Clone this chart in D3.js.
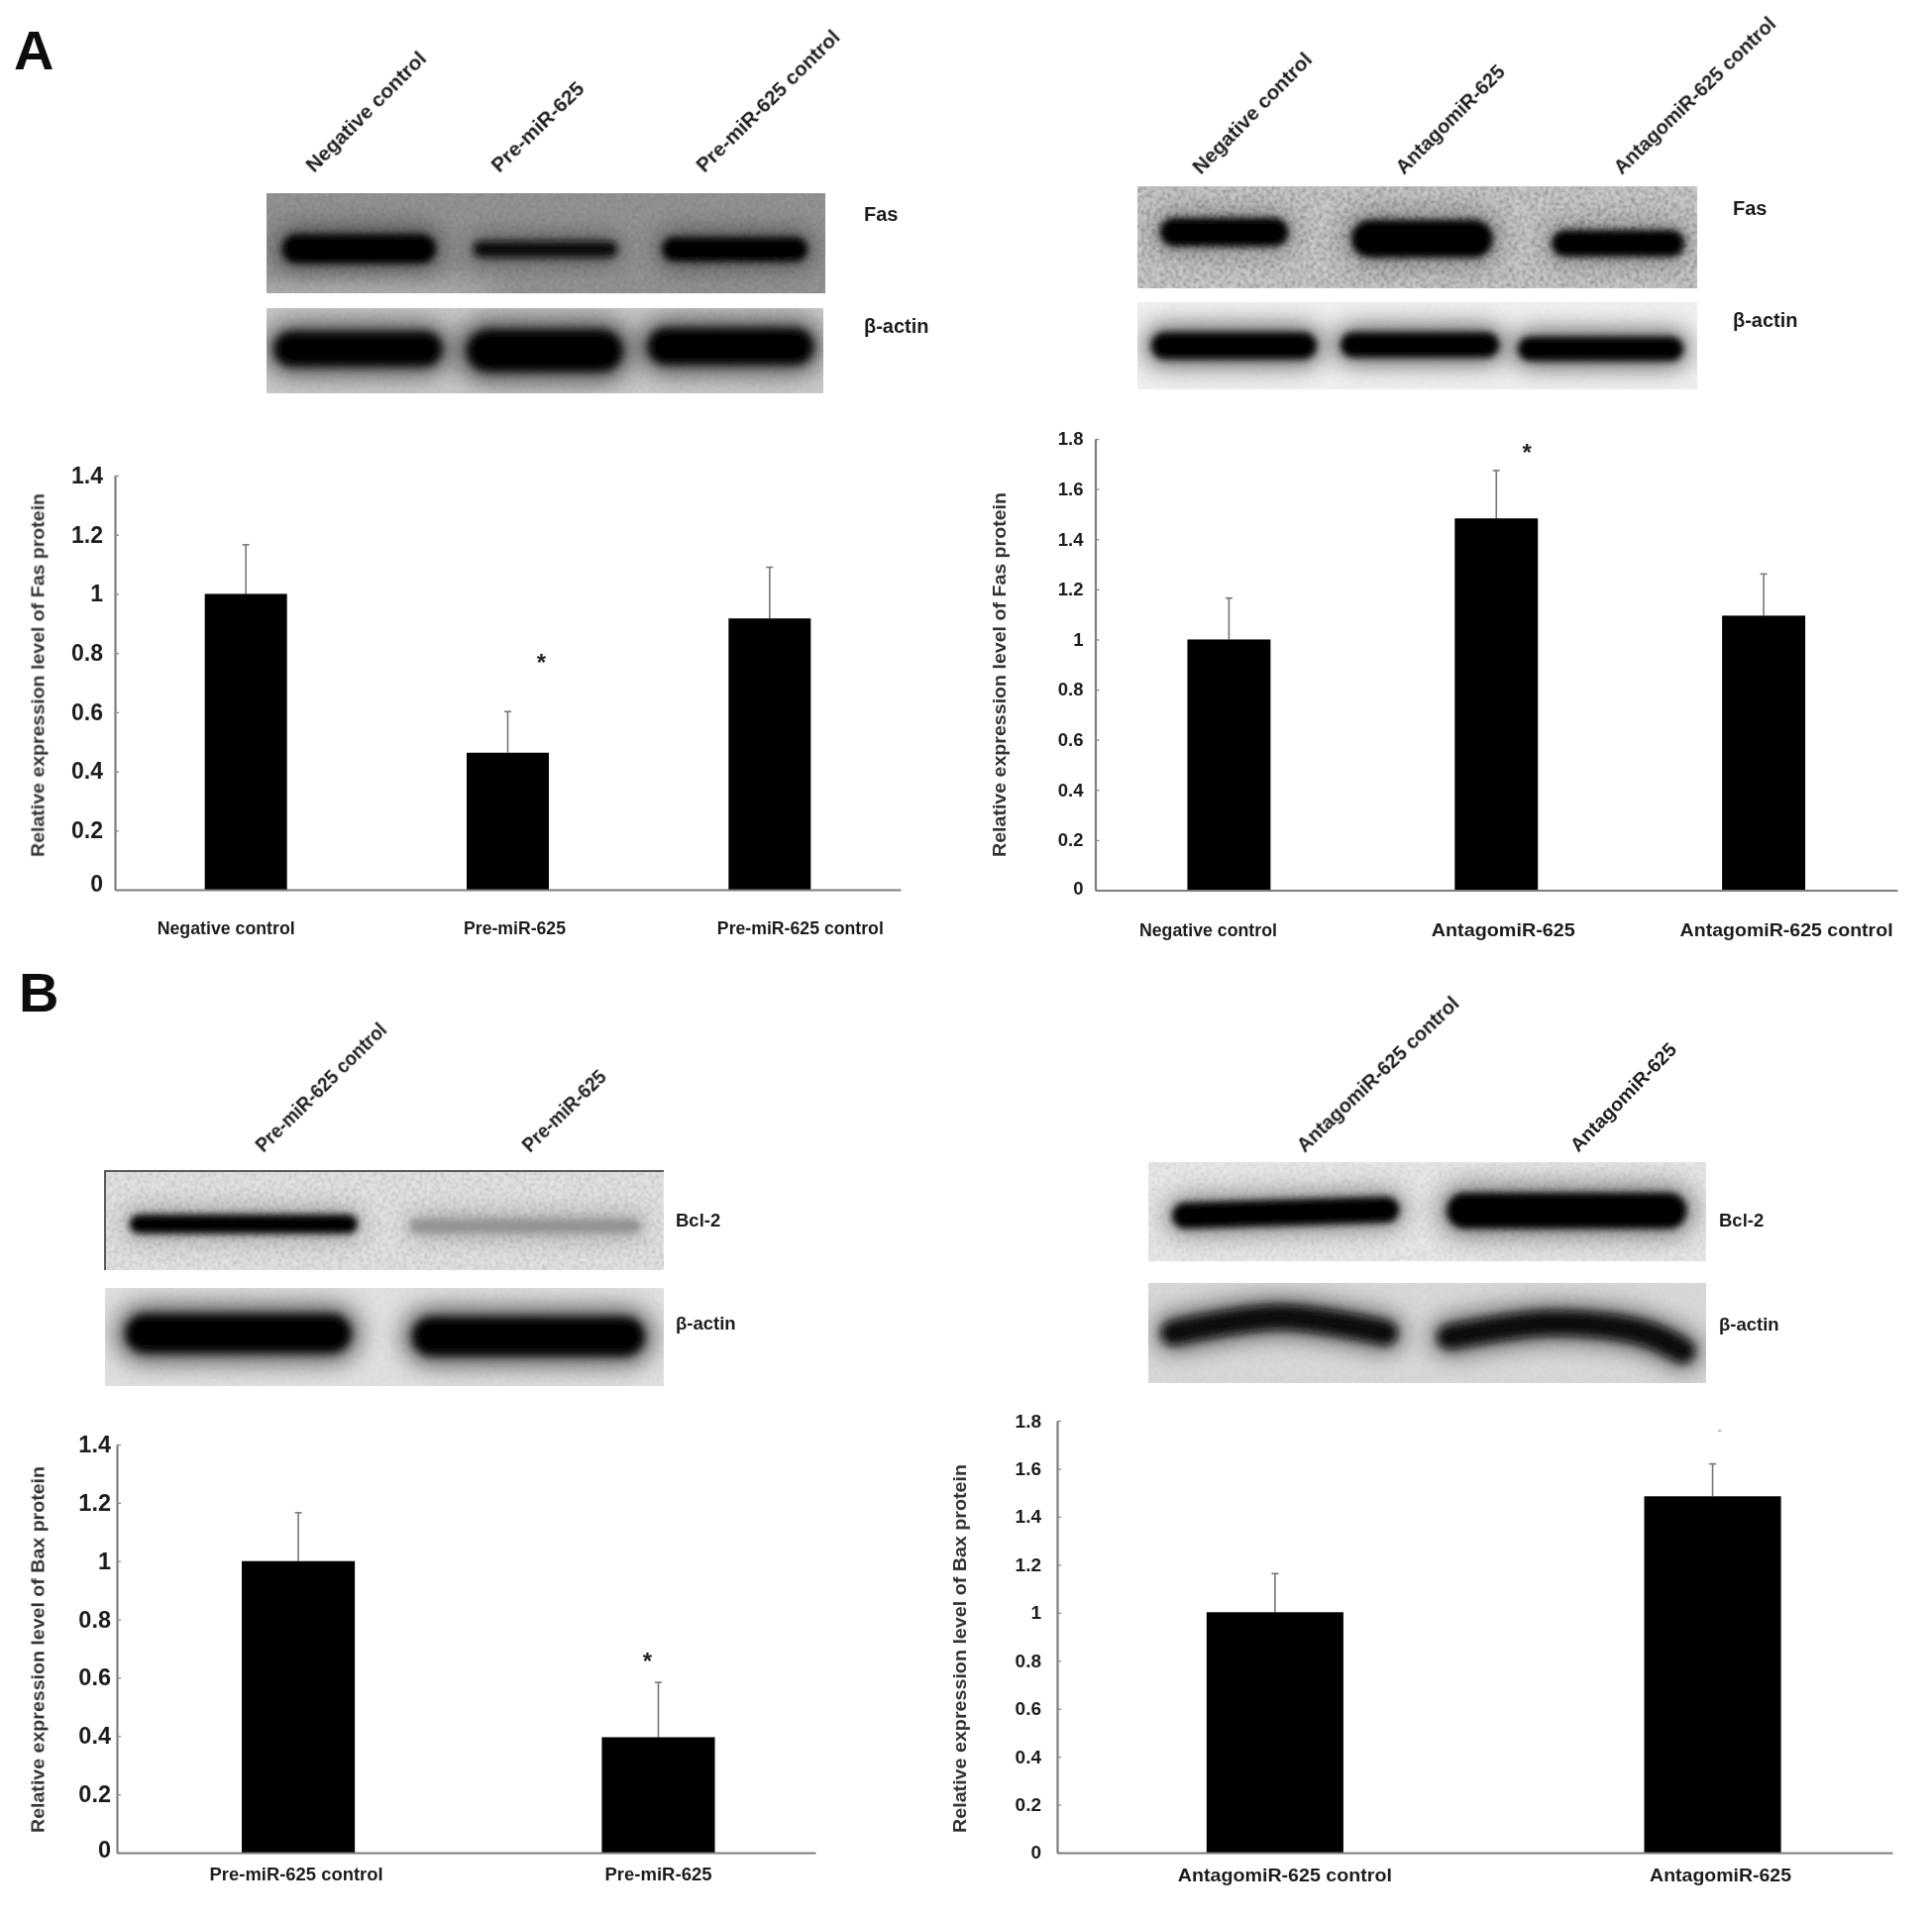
<!DOCTYPE html>
<html>
<head>
<meta charset="utf-8" />
<title>Fas and Bax protein expression</title>
<script src="https://cdn.jsdelivr.net/npm/d3@7/dist/d3.min.js"></script>
<style>
    html, body { margin: 0; padding: 0; background: #fff; }
    svg { display: block; }
    text { font-family: "Liberation Sans", Arial, sans-serif; font-weight: bold; fill: #1c1c1c; }
</style>
</head>
<body>
<div id="chart_container"></div>
<script>
// bar chart values
const aLeftCategories = ["Negative control", "Pre-miR-625", "Pre-miR-625 control"];
const aLeftValues = [1.0, 0.463, 0.917];
const aLeftErrors = [0.166, 0.139, 0.173];
const aLeftStars = [null, 0.79, null];
const aLeftTicks = [0, 0.2, 0.4, 0.6, 0.8, 1, 1.2, 1.4];

const aRightCategories = ["Negative control", "AntagomiR-625", "AntagomiR-625 control"];
const aRightValues = [1.0, 1.483, 1.095];
const aRightErrors = [0.165, 0.191, 0.166];
const aRightStars = [null, 1.77, null];
const aRightTicks = [0, 0.2, 0.4, 0.6, 0.8, 1, 1.2, 1.4, 1.6, 1.8];

const bLeftCategories = ["Pre-miR-625 control", "Pre-miR-625"];
const bLeftValues = [1.0, 0.396];
const bLeftErrors = [0.166, 0.188];
const bLeftStars = [null, 0.68];
const bLeftTicks = [0, 0.2, 0.4, 0.6, 0.8, 1, 1.2, 1.4];

const bRightCategories = ["AntagomiR-625 control", "AntagomiR-625"];
const bRightValues = [1.002, 1.485];
const bRightErrors = [0.161, 0.135];
const bRightStars = [null, 1.76];
const bRightTicks = [0, 0.2, 0.4, 0.6, 0.8, 1, 1.2, 1.4, 1.6, 1.8];

// blot bands in percent of the strip: x0, x1, y0, y1, tone, slant
const aLeftFasBands = [[2.8, 30.3, 41, 70, "#000", 0], [37, 62.8, 48, 64, "#111", 0], [70.8, 96.8, 44, 68, "#000", 0]];
const aLeftActinBands = [[1.4, 31.5, 28, 68, "#000", 0], [36, 63.9, 26, 74, "#000", 0], [68.5, 98.2, 24, 66, "#000", 0]];
const aRightFasBands = [[4, 27, 31, 59, "#000", 0], [38.2, 63.5, 33, 70, "#000", 0], [74, 97.7, 43, 69, "#000", 0]];
const aRightActinBands = [[2.5, 32, 35, 65, "#000", 0], [36.3, 64.6, 35, 63, "#000", 0], [68, 97.5, 40, 67, "#000", 0]];
const bLeftBcl2Bands = [[4.4, 45.2, 44, 63, "#000", 0], [54.6, 95.9, 49, 62, "#929292", 0]];
const bLeftActinBands = [[3.7, 44, 27, 66, "#000", 0], [55, 96.5, 30, 69, "#000", 0]];
const bRightBcl2Bands = [[4.3, 45, 38, 64, "#000", 3], [53.5, 96.5, 31, 67, "#000", 0]];
// curved beta-actin bands of the last strip: centre line in percent, thickness in percent
const bRightActinCurves = [
    { pts: [[4.5, 50], [23.6, 34], [42.5, 50]], th: 24, tone: "#0c0c0c" },
    { pts: [[54, 54], [72.3, 40], [88.8, 50], [95.8, 68]], th: 24, tone: "#0c0c0c" }
];

const panelLetters = ["A", "B"];
const yTitleFas = "Relative expression level of Fas protein";
const yTitleBax = "Relative expression level of Bax protein";

// layout
const panels = [
    { cats: aLeftCategories, values: aLeftValues, errors: aLeftErrors, stars: aLeftStars, ticks: aLeftTicks, title: yTitleFas,
      left: 116, right: 909, top: 480, bottom: 898, inner: 0.686, outer: 0.343, align: 0.5,
      tickFont: 23, tickPad: 12, zeroUp: 6, catFont: 17.5, catY: 39, catDx: [-20, 7, 31], catW: [139, 103, 168],
      titleX: 38.5, titleY: 681.5, titleLen: 367, starDx: 34, starMark: "*", starColor: "#222" },
    { cats: aRightCategories, values: aRightValues, errors: aRightErrors, stars: aRightStars, ticks: aRightTicks, title: yTitleFas,
      left: 1105.5, right: 1915, top: 443, bottom: 898.5, inner: 0.689, outer: 0.3445, align: 0.5,
      tickFont: 18.5, tickPad: 12, zeroUp: 2, catFont: 18, catY: 40, catDx: [-21, 7, 23], catW: [139, 145, 215],
      titleX: 1009, titleY: 681, titleLen: 368, starDx: 31, starMark: "*", starColor: "#222" },
    { cats: bLeftCategories, values: bLeftValues, errors: bLeftErrors, stars: bLeftStars, ticks: bLeftTicks, title: yTitleBax,
      left: 118, right: 823, top: 1458, bottom: 1870, inner: 0.686, outer: 0.313, align: 0.554,
      tickFont: 23.5, tickPad: 6, zeroUp: 3, catFont: 18, catY: 22, catDx: [-2, 0], catW: [175, 108],
      titleX: 38.5, titleY: 1665, titleLen: 370, starDx: -11, starMark: "*", starColor: "#222" },
    { cats: bRightCategories, values: bRightValues, errors: bRightErrors, stars: bRightStars, ticks: bRightTicks, title: yTitleBax,
      left: 1067, right: 1910, top: 1434, bottom: 1870, inner: 0.6874, outer: 0.298, align: 0.573,
      tickFont: 19, tickPad: 16, zeroUp: 1, catFont: 19, catY: 22, catDx: [10, 8], catW: [216, 143],
      titleX: 969, titleY: 1664, titleLen: 372, starDx: 7, starMark: "-", starColor: "#aaa" }
];

const blots = [
    { left: 269, right: 833, top: 195, bottom: 296, bg: "#909090", halo: 0.45, dark: 0.12, light: 0.12, blur: "bandBlur", bands: aLeftFasBands, patch: [16, 104, 26, 16, 0.32] },
    { left: 269, right: 831, top: 311, bottom: 397, bg: "#cacaca", halo: 0.6, dark: 0.05, light: 0.05, blur: "wideBlur", bands: aLeftActinBands },
    { left: 1148, right: 1713, top: 188, bottom: 291, bg: "#c8c8c8", halo: 0.28, dark: 0.42, light: 0.42, blur: "bandBlur", bands: aRightFasBands },
    { left: 1148, right: 1713, top: 305, bottom: 393, bg: "#efefef", halo: 0.62, dark: 0.02, light: 0.02, blur: "bandBlur", bands: aRightActinBands },
    { left: 106, right: 670, top: 1182, bottom: 1282, bg: "#e2e2e2", halo: 0.3, dark: 0.2, light: 0.36, blur: "bandBlur", bands: bLeftBcl2Bands, frame: true },
    { left: 106, right: 670, top: 1300, bottom: 1399, bg: "#e0e0e0", halo: 0.6, dark: 0.03, light: 0.03, blur: "wideBlur", bands: bLeftActinBands },
    { left: 1159, right: 1722, top: 1173, bottom: 1273, bg: "#e8e8e8", halo: 0.42, dark: 0.12, light: 0.2, blur: "bandBlur", bands: bRightBcl2Bands },
    { left: 1159, right: 1722, top: 1295, bottom: 1396, bg: "#d8d8d8", halo: 0.6, dark: 0.03, light: 0.03, blur: "wideBlur", bands: [], curves: bRightActinCurves }
];

// rotated lane labels: text, start x, start y, length, angle
const laneLabels = [
    ["Negative control", 312, 170, 162, 45], ["Pre-miR-625", 499, 170, 121, 44], ["Pre-miR-625 control", 706, 170, 194, 44.6],
    ["Negative control", 1207, 172, 162, 45.5], ["AntagomiR-625", 1412, 172, 146, 45], ["AntagomiR-625 control", 1632, 172, 218, 44],
    ["Pre-miR-625 control", 261, 1159, 176, 44.4], ["Pre-miR-625", 530, 1159, 109, 44],
    ["AntagomiR-625 control", 1312, 1159, 217, 43.6], ["AntagomiR-625", 1588, 1159, 144, 45.8]
];

// side labels of the strips: text, x, y, font size
const sideLabels = [
    ["Fas", 872, 216, 20], ["β-actin", 872, 329, 20],
    ["Fas", 1749, 210, 20], ["β-actin", 1749, 323, 20],
    ["Bcl-2", 682, 1232, 18.5], ["β-actin", 682, 1336, 18.5],
    ["Bcl-2", 1735, 1232, 18.5], ["β-actin", 1735, 1337, 18.5]
];

const svg = d3.select("#chart_container").append("svg")
    .attr("width", 1950)
    .attr("height", 1943);

const defs = svg.append("defs");

function addBlur(id, dev) {
    defs.append("filter")
        .attr("id", id)
        .attr("filterUnits", "userSpaceOnUse")
        .attr("x", 0).attr("y", 0).attr("width", 1950).attr("height", 1943)
        .append("feGaussianBlur").attr("stdDeviation", dev);
}
addBlur("soft", 0.65);
addBlur("bandBlur", 3.6);
addBlur("wideBlur", 4.6);
addBlur("haloBlur", 12);

// speckle for the blot background, one dark and one light
function addNoise(id, level, seed) {
    const f = defs.append("filter").attr("id", id).attr("x", 0).attr("y", 0).attr("width", 1).attr("height", 1);
    f.append("feTurbulence").attr("type", "fractalNoise").attr("baseFrequency", 0.38).attr("numOctaves", 1).attr("seed", seed);
    f.append("feColorMatrix").attr("values", `0 0 0 0 ${level}  0 0 0 0 ${level}  0 0 0 0 ${level}  3.4 0 0 0 -1.5`);
    f.append("feGaussianBlur").attr("stdDeviation", 1);
}
addNoise("noiseDark", 0, 3);
addNoise("noiseLight", 1, 11);

const root = svg.append("g").attr("filter", "url(#soft)");

function drawBlot(blot, i) {
    const x = d3.scaleLinear([0, 100], [blot.left, blot.right]);
    const y = d3.scaleLinear([0, 100], [blot.top, blot.bottom]);
    const w = blot.right - blot.left;
    const h = blot.bottom - blot.top;

    defs.append("clipPath").attr("id", "strip" + i)
        .append("rect").attr("x", blot.left).attr("y", blot.top).attr("width", w).attr("height", h);

    const g = root.append("g").attr("clip-path", `url(#strip${i})`);
    g.append("rect").attr("x", blot.left).attr("y", blot.top).attr("width", w).attr("height", h).attr("fill", blot.bg);

    g.append("rect").attr("x", blot.left).attr("y", blot.top).attr("width", w).attr("height", h)
        .attr("filter", "url(#noiseDark)").attr("opacity", blot.dark);
    g.append("rect").attr("x", blot.left).attr("y", blot.top).attr("width", w).attr("height", h)
        .attr("filter", "url(#noiseLight)").attr("opacity", blot.light);

    // lighter stain on the membrane
    if (blot.patch) {
        g.append("ellipse")
            .attr("cx", x(blot.patch[0])).attr("cy", y(blot.patch[1]))
            .attr("rx", blot.patch[2] / 100 * w).attr("ry", blot.patch[3] / 100 * h)
            .attr("fill", "#fff").attr("opacity", blot.patch[4])
            .attr("filter", "url(#haloBlur)");
    }

    const line = d3.line().x(d => x(d[0])).y(d => y(d[1])).curve(d3.curveCatmullRom);

    // every band is a stroked round capped line
    const strokes = blot.bands.map(b => {
        const th = b[3] - b[2];
        const inset = (th / 100 * h / 2) / w * 100;
        const mid = (b[2] + b[3]) / 2;
        return { pts: [[b[0] + inset, mid + b[5]], [b[1] - inset, mid - b[5]]], th: th, tone: b[4] };
    }).concat(blot.curves || []);

    g.selectAll("path.halo").data(strokes).join("path")
        .attr("class", "halo")
        .attr("d", d => line(d.pts))
        .attr("fill", "none")
        .attr("stroke", "#000")
        .attr("stroke-linecap", "round")
        .attr("stroke-width", d => d.th / 100 * h * 1.5)
        .attr("opacity", blot.halo)
        .attr("filter", "url(#haloBlur)");

    g.selectAll("path.band").data(strokes).join("path")
        .attr("class", "band")
        .attr("d", d => line(d.pts))
        .attr("fill", "none")
        .attr("stroke", d => d.tone)
        .attr("stroke-linecap", "round")
        .attr("stroke-width", d => d.th / 100 * h)
        .attr("filter", `url(#${blot.blur})`);

    if (blot.frame) {
        root.append("path")
            .attr("d", `M${blot.left},${blot.bottom}V${blot.top}H${blot.right}`)
            .attr("fill", "none")
            .attr("stroke", "#5a5a5a")
            .attr("stroke-width", 2);
    }
}

function drawPanel(p) {
    const x = d3.scaleBand()
        .domain(p.cats)
        .range([p.left, p.right])
        .paddingInner(p.inner)
        .paddingOuter(p.outer)
        .align(p.align);
    const y = d3.scaleLinear()
        .domain([0, d3.max(p.ticks)])
        .range([p.bottom, p.top]);
    const g = root.append("g");

    const rows = p.cats.map((c, i) => ({ cat: c, value: p.values[i], error: p.errors[i], star: p.stars[i] }));
    const barMid = d => x(d.cat) + x.bandwidth() / 2;

    // error bars, only the upper half shows
    g.selectAll("line.err").data(rows).join("line")
        .attr("class", "err")
        .attr("x1", barMid).attr("x2", barMid)
        .attr("y1", d => y(d.value)).attr("y2", d => y(d.value + d.error))
        .attr("stroke", "#777").attr("stroke-width", 1.6);
    g.selectAll("line.cap").data(rows).join("line")
        .attr("class", "cap")
        .attr("x1", d => barMid(d) - 3.5).attr("x2", d => barMid(d) + 3.5)
        .attr("y1", d => y(d.value + d.error)).attr("y2", d => y(d.value + d.error))
        .attr("stroke", "#777").attr("stroke-width", 1.6);

    g.selectAll("rect.bar").data(rows).join("rect")
        .attr("class", "bar")
        .attr("x", d => x(d.cat))
        .attr("width", x.bandwidth())
        .attr("y", d => y(d.value))
        .attr("height", d => y(0) - y(d.value))
        .attr("fill", "#000");

    g.selectAll("text.star").data(rows.filter(d => d.star !== null)).join("text")
        .attr("class", "star")
        .attr("x", d => barMid(d) + p.starDx)
        .attr("y", d => y(d.star))
        .attr("dy", p.starMark === "*" ? "0.62em" : "0.35em")
        .attr("text-anchor", "middle")
        .style("font-size", p.starMark === "*" ? "24px" : "13px")
        .style("fill", p.starColor)
        .text(p.starMark);

    const yAxis = g.append("g")
        .attr("transform", `translate(${p.left},0)`)
        .call(d3.axisLeft(y).tickValues(p.ticks).tickFormat(d => d).tickSize(-4).tickSizeOuter(0).tickPadding(p.tickPad));
    yAxis.selectAll("text")
        .attr("y", d => d === 0 ? -p.zeroUp : 0)
        .style("font-size", p.tickFont + "px");

    const xAxis = g.append("g")
        .attr("transform", `translate(0,${p.bottom})`)
        .call(d3.axisBottom(x).tickSize(0));
    xAxis.selectAll("text")
        .attr("x", (d, i) => p.catDx[i])
        .attr("y", p.catY)
        .attr("dy", "0.35em")
        .attr("textLength", (d, i) => p.catW[i])
        .attr("lengthAdjust", "spacingAndGlyphs")
        .style("font-size", p.catFont + "px");

    g.selectAll(".domain").attr("stroke", "#7d7d7d").attr("stroke-width", 2.2);
    g.selectAll(".tick line").attr("stroke", "#8a8a8a").attr("stroke-width", 1.3);

    g.append("text")
        .attr("transform", `translate(${p.titleX},${p.titleY}) rotate(-90)`)
        .attr("text-anchor", "middle")
        .attr("dy", "0.35em")
        .attr("textLength", p.titleLen)
        .attr("lengthAdjust", "spacingAndGlyphs")
        .style("font-size", "18px")
        .style("fill", "#333")
        .text(p.title);
}

blots.forEach(drawBlot);
panels.forEach(drawPanel);

root.selectAll("text.lane").data(laneLabels).join("text")
    .attr("class", "lane")
    .attr("transform", d => `translate(${d[1]},${d[2]}) rotate(${-d[4]})`)
    .attr("dy", "0.35em")
    .attr("textLength", d => d[3])
    .attr("lengthAdjust", "spacingAndGlyphs")
    .style("font-size", "19.5px")
    .style("fill", "#1f1f1f")
    .text(d => d[0]);

root.selectAll("text.side").data(sideLabels).join("text")
    .attr("class", "side")
    .attr("x", d => d[1])
    .attr("y", d => d[2])
    .attr("dy", "0.35em")
    .style("font-size", d => d[3] + "px")
    .text(d => d[0]);

root.append("text").attr("x", 14).attr("y", 70).style("font-size", "56px").style("fill", "#111").text(panelLetters[0]);
root.append("text").attr("x", 19).attr("y", 1021).style("font-size", "56px").style("fill", "#111").text(panelLetters[1]);
</script>
</body>
</html>
